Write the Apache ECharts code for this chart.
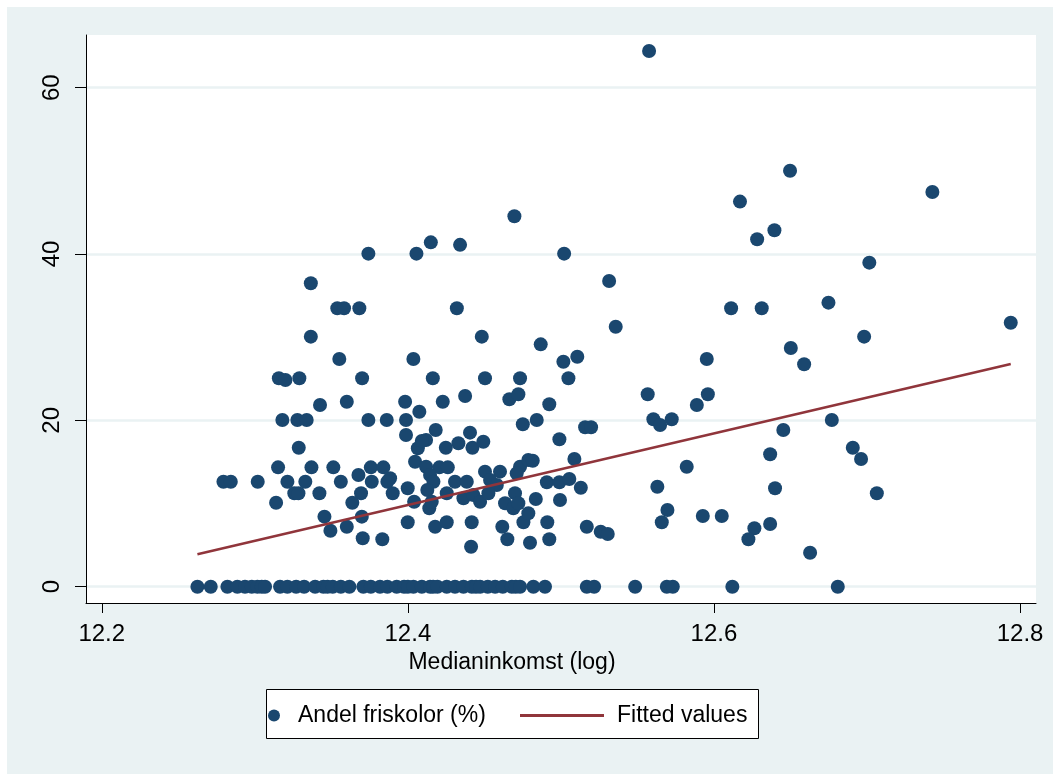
<!DOCTYPE html>
<html>
<head>
<meta charset="utf-8">
<script src="https://cdn.jsdelivr.net/npm/echarts@6/dist/echarts.min.js"></script>
<style>
  html, body { margin: 0; padding: 0; background: #ffffff; }
  #chart { position: absolute; left: 7px; top: 7px; width: 1046px; height: 767px; }
</style>
</head>
<body>
<div id="chart"></div>
<script>
// Tick positions on both axes
const xTicks = [12.2, 12.4, 12.6, 12.8];
const yTicks = [0, 20, 40, 60];

// Municipalities with a non-zero share of independent schools
const incomeLog = [
  12.5576, 12.6497, 12.7427, 12.6170, 12.6395, 12.6282, 12.7015, 12.3742, 12.4056, 12.4150,
  12.4341, 12.4696, 12.5021, 12.3366, 12.3539, 12.3583, 12.3683, 12.3366, 12.3552, 12.3157,
  12.3200, 12.3291, 12.3701, 12.3426, 12.3601, 12.3180, 12.3278, 12.3339, 12.3287, 12.3152,
  12.3370, 12.3513, 12.3677, 12.2795, 12.2843, 12.3019, 12.3213, 12.3330, 12.3562, 12.3258,
  12.3285, 12.3422, 12.3694, 12.3139, 12.3637, 12.3455, 12.3699, 12.3494, 12.3601, 12.3705,
  12.4320, 12.4483, 12.4036, 12.4163, 12.4504, 12.4733, 12.3982, 12.4228, 12.4374, 12.4663,
  12.4722, 12.4075, 12.3742, 12.3862, 12.3988, 12.4751, 12.3988, 12.4182, 12.4119, 12.4065,
  12.4248, 12.4330, 12.4406, 12.4422, 12.4493, 12.4047, 12.3758, 12.3840, 12.4119, 12.4206,
  12.4261, 12.3884, 12.3764, 12.4145, 12.4167, 12.3866, 12.4504, 12.4602, 12.4537, 12.4308,
  12.4385, 12.4581, 12.4733, 12.4787, 12.4711, 12.3901, 12.3999, 12.4127, 12.4254, 12.4363,
  12.4428, 12.4472, 12.4526, 12.4635, 12.4700, 12.4689, 12.4041, 12.4140, 12.4156, 12.3999,
  12.4178, 12.4254, 12.4417, 12.4617, 12.4755, 12.3833, 12.4650, 12.4413, 12.4798, 12.5315,
  12.5358, 12.4868, 12.5016, 12.5107, 12.5049, 12.4924, 12.5567, 12.5888, 12.5960, 12.5953,
  12.4842, 12.5158, 12.5197, 12.4990, 12.5604, 12.5648, 12.5724, 12.4816, 12.5088, 12.5822,
  12.4908, 12.4990, 12.5055, 12.5130, 12.5630, 12.4836, 12.4994, 12.4787, 12.4911, 12.5169,
  12.5260, 12.5306, 12.5696, 12.5659, 12.5927, 12.6051, 12.4924, 12.6112, 12.6312, 12.6748,
  12.7939, 12.6981, 12.6502, 12.6589, 12.6770, 12.6453, 12.6907, 12.6961, 12.6367, 12.6399,
  12.7064, 12.6264, 12.6225, 12.6367, 12.6628, 12.4722, 12.4091
];
const shareFriskolor = [
  64.40, 50.00, 47.46, 46.30, 42.85, 41.77, 38.96, 40.04, 40.04, 41.40,
  41.10, 44.53, 40.04, 36.48, 33.47, 33.47, 33.47, 30.06, 27.38, 25.06,
  24.85, 25.06, 25.06, 21.85, 22.24, 20.04, 20.04, 20.04, 16.71, 14.35,
  14.35, 14.35, 13.43, 12.62, 12.62, 12.62, 12.62, 12.62, 12.62, 11.23,
  11.23, 11.23, 11.23, 10.10, 10.10, 8.42, 8.42, 6.73, 7.21, 5.82,
  33.47, 30.06, 27.38, 25.06, 25.06, 25.06, 22.24, 22.24, 22.93, 22.53,
  23.13, 21.04, 20.04, 20.04, 20.04, 19.53, 18.24, 18.84, 17.64, 16.64,
  16.71, 17.24, 18.52, 16.71, 17.43, 15.03, 14.35, 14.35, 14.43, 14.35,
  14.35, 13.03, 12.62, 13.43, 12.62, 12.62, 13.83, 13.83, 12.83, 12.62,
  12.62, 12.23, 14.43, 15.23, 13.63, 11.23, 11.83, 11.63, 11.23, 10.63,
  11.03, 10.22, 11.23, 10.03, 11.23, 9.43, 10.22, 9.43, 10.22, 7.74,
  7.21, 7.74, 7.74, 7.21, 7.74, 5.70, 5.70, 4.81, 5.29, 36.76,
  31.26, 29.14, 27.05, 27.65, 25.06, 21.93, 23.13, 21.85, 23.13, 27.38,
  20.04, 19.17, 19.17, 17.72, 20.13, 19.44, 20.13, 15.15, 15.35, 14.43,
  12.55, 12.55, 12.95, 11.90, 12.02, 10.54, 10.42, 8.83, 7.74, 7.21,
  6.61, 6.34, 9.22, 7.74, 8.50, 8.50, 5.70, 33.47, 33.47, 34.15,
  31.74, 30.06, 28.70, 26.74, 20.04, 18.84, 16.71, 15.35, 15.92, 11.83,
  11.23, 7.02, 5.70, 7.54, 4.09, 10.03, 17.52
];

// Municipalities without any independent school (share = 0)
const zeroIncomeLog = [
  12.2625, 12.2712, 12.2821, 12.2886, 12.2936, 12.2980, 12.3017, 12.3045, 12.3067, 12.3165,
  12.3213, 12.3270, 12.3322, 12.3394, 12.3448, 12.3475, 12.3509, 12.3562, 12.3618, 12.3709,
  12.3758, 12.3818, 12.3866, 12.3927, 12.3975, 12.4000, 12.4036, 12.4091, 12.4145, 12.4165,
  12.4193, 12.4254, 12.4308, 12.4363, 12.4418, 12.4445, 12.4472, 12.4522, 12.4570, 12.4620,
  12.4679, 12.4705, 12.4733, 12.4820, 12.4896, 12.5169, 12.5217, 12.5485, 12.5692, 12.5731,
  12.6120, 12.6809
];

// Linear fit, drawn between the smallest and largest income
const fitIncomeLog = [12.2625, 12.7939];
const fitShare = [3.90, 26.78];

const FONT = 'Liberation Sans, Arial, Helvetica, sans-serif';
const NAVY = '#1a476f';
const MAROON = '#90353b';

const scatterData = incomeLog.map((x, i) => [x, shareFriskolor[i]])
  .concat(zeroIncomeLog.map(x => [x, 0]));
const fitData = fitIncomeLog.map((x, i) => [x, fitShare[i]]);

const chart = echarts.init(document.getElementById('chart'), null, { renderer: 'canvas' });

chart.setOption({
  animation: false,
  backgroundColor: '#eaf2f3',
  textStyle: { fontFamily: FONT },
  graphic: [
    {
      type: 'rect',
      silent: true,
      shape: { x: 259.5, y: 682.5, width: 492, height: 49 },
      style: { fill: '#ffffff', stroke: '#000000', lineWidth: 1 }
    }
  ],
  grid: {
    left: 79, top: 28, right: 17, bottom: 171,
    show: true, backgroundColor: '#ffffff', borderWidth: 0
  },
  xAxis: {
    type: 'value',
    min: 12.1897,
    max: 12.8104,
    name: 'Medianinkomst (log)',
    nameLocation: 'middle',
    nameGap: 43,
    nameTextStyle: { fontSize: 23, color: '#000', fontFamily: FONT, padding: [0, 98, 0, 0] },
    axisLine: { show: true, onZero: false, lineStyle: { color: '#000', width: 1 } },
    axisTick: { show: true, length: 10, customValues: xTicks, lineStyle: { color: '#000', width: 1 } },
    axisLabel: {
      customValues: xTicks,
      formatter: v => v.toFixed(1),
      margin: 19,
      fontSize: 24,
      color: '#000',
      fontFamily: FONT
    },
    splitLine: { show: false }
  },
  yAxis: {
    type: 'value',
    min: -1.96,
    max: 66.33,
    axisLine: { show: true, onZero: false, lineStyle: { color: '#000', width: 1 } },
    axisTick: { show: true, length: 11, customValues: yTicks, lineStyle: { color: '#000', width: 1 } },
    axisLabel: {
      customValues: yTicks,
      rotate: 90,
      margin: 22,
      fontSize: 24,
      color: '#000',
      fontFamily: FONT
    },
    splitLine: { show: true, lineStyle: { color: '#eaf2f3', width: 2.5 } }
  },
  legend: [
    {
      data: [{ name: 'Andel friskolor (%)', icon: 'circle' }],
      left: 261, top: 697,
      padding: 0,
      itemWidth: 24, itemHeight: 12,
      textStyle: { fontSize: 23, color: '#000', fontFamily: FONT, padding: [0, 0, 0, 7] },
      selectedMode: false
    },
    {
      data: [{ name: 'Fitted values', icon: 'rect' }],
      left: 513, top: 697,
      padding: 0,
      itemWidth: 84, itemHeight: 3,
      itemStyle: { color: MAROON },
      textStyle: { fontSize: 23, color: '#000', fontFamily: FONT, padding: [0, 0, 0, 8] },
      selectedMode: false
    }
  ],
  series: [
    {
      name: 'Andel friskolor (%)',
      type: 'scatter',
      data: scatterData,
      symbol: 'circle',
      symbolSize: 14,
      itemStyle: { color: NAVY, opacity: 1 },
      emphasis: { disabled: true },
      z: 3
    },
    {
      name: 'Fitted values',
      type: 'line',
      data: fitData,
      symbol: 'none',
      lineStyle: { color: MAROON, width: 2.5 },
      itemStyle: { color: MAROON },
      emphasis: { disabled: true },
      z: 4
    }
  ]
});
</script>
</body>
</html>
